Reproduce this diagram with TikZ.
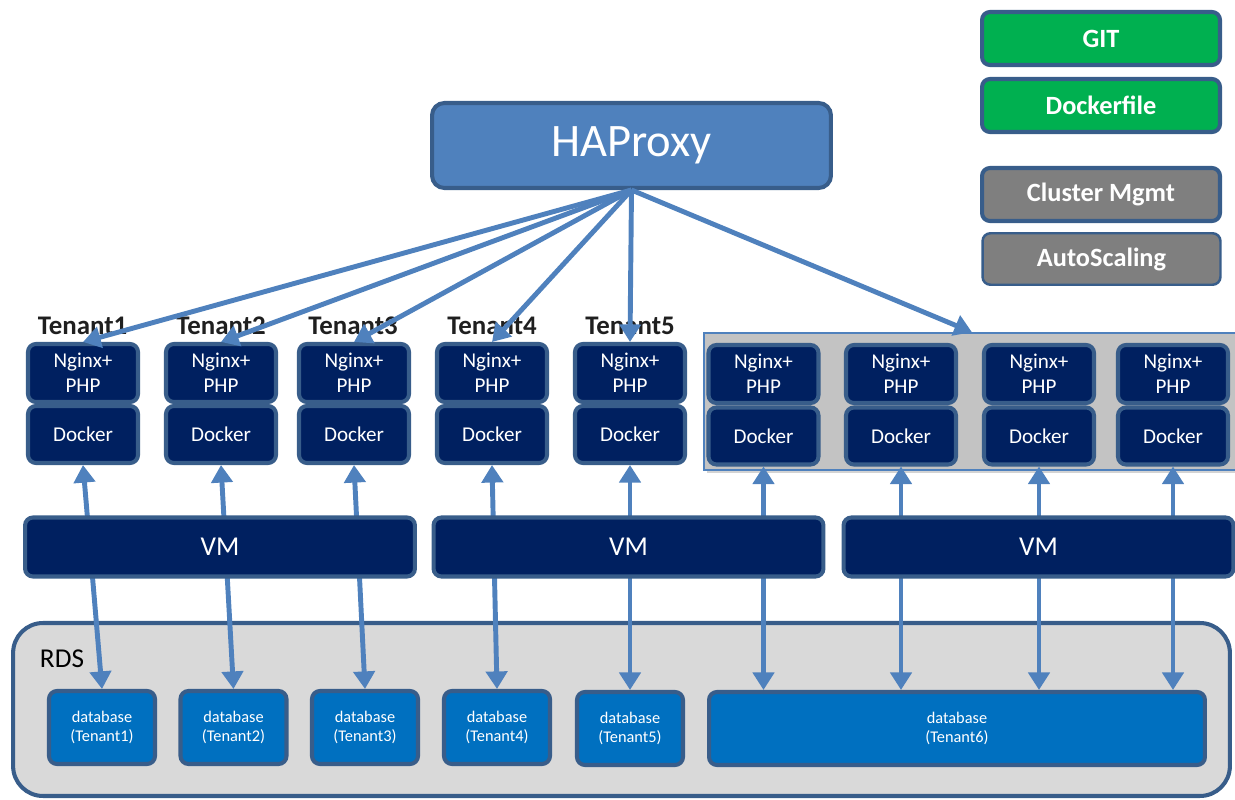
\documentclass[tikz,border=0pt]{standalone}
\usepackage{fontspec}
\setmainfont{Carlito}
\usepackage{tikz}
\usetikzlibrary{arrows.meta,shadows}
\pgfdeclarelayer{background}
\pgfsetlayers{background,main}

\definecolor{edgeblue}{HTML}{385D8A}
\definecolor{habue}{HTML}{4F81BD}
\definecolor{navy}{HTML}{002060}
\definecolor{gitgreen}{HTML}{00B050}
\definecolor{mgmtgray}{HTML}{7F7F7F}
\definecolor{dbblue}{HTML}{0070C0}
\definecolor{rdsgray}{HTML}{D9D9D9}
\definecolor{grpgray}{HTML}{C3C3C3}

\begin{document}
\begin{tikzpicture}[x=0.02cm, y=-0.02cm,
  shapebox/.style={draw=edgeblue, line width=2.3pt, rounded corners=4.5pt,
    text=white, align=center, inner sep=0pt},
  stackbox/.style={shapebox, fill=navy, minimum width=2.2cm,
    font=\fontsize{12}{14.5}\selectfont},
  nginxbox/.style={stackbox, minimum height=1.16cm},
  dockbox/.style={stackbox, minimum height=1.14cm},
  vmbox/.style={shapebox, fill=navy, minimum width=7.8cm, minimum height=1.18cm,
    font=\fontsize{15.5}{18}\selectfont},
  dbbox/.style={shapebox, fill=dbblue, minimum width=2.12cm, minimum height=1.46cm,
    font=\fontsize{9.3}{11}\selectfont},
  toolbox/.style={shapebox, minimum width=4.76cm, minimum height=1.06cm,
    font=\bfseries\fontsize{15}{17}\selectfont},
  tenantlbl/.style={font=\bfseries\fontsize{15.3}{18}\selectfont, text=black!88},
  link/.style={habue, line width=2.8pt, -{Triangle[width=12pt,length=10pt]}},
  twoway/.style={link, {Triangle[width=12pt,length=10pt]}-{Triangle[width=12pt,length=10pt]}}]
  \useasboundingbox (0,0) rectangle (1235,800);

  % load balancer
  \node (ha) [shapebox, fill=habue, rounded corners=7pt, minimum width=7.98cm,
    minimum height=1.7cm, font=\fontsize{26.5}{30}\selectfont] at (631.5,145.5) {HAProxy};

  % tools on the right
  \node (git) [toolbox, fill=gitgreen] at (1101,38.5) {GIT};
  \node (dfile) [toolbox, fill=gitgreen] at (1101,105.5) {Dockerfile};
  \node (mgmt) [toolbox, fill=mgmtgray] at (1101,194.5) {Cluster Mgmt};
  \node (auto) [toolbox, fill=mgmtgray, line width=1.4pt, minimum height=1.03cm] at (1101.5,259) {AutoScaling};

  % tenants
  \node (l1) [tenantlbl] at (82.5,326) {Tenant1};
  \node (l2) [tenantlbl] at (221,326) {Tenant2};
  \node (l3) [tenantlbl] at (353,326) {Tenant3};
  \node (l4) [tenantlbl] at (492,326) {Tenant4};
  \node (l5) [tenantlbl] at (630,326) {Tenant5};

  \node (t1n) [nginxbox] at (83,373) {Nginx+\\PHP};
  \node (t1d) [dockbox] at (83,434.5) {Docker};
  \node (t2n) [nginxbox] at (221,373) {Nginx+\\PHP};
  \node (t2d) [dockbox] at (221,434.5) {Docker};
  \node (t3n) [nginxbox] at (354,373) {Nginx+\\PHP};
  \node (t3d) [dockbox] at (354,434.5) {Docker};
  \node (t4n) [nginxbox] at (492,373) {Nginx+\\PHP};
  \node (t4d) [dockbox] at (492,434.5) {Docker};
  \node (t5n) [nginxbox] at (630,373) {Nginx+\\PHP};
  \node (t5d) [dockbox] at (630,434.5) {Docker};

  % tenant6 group
  \node (g1n) [nginxbox] at (763.5,374) {Nginx+\\PHP};
  \node (g1d) [dockbox] at (763.5,436) {Docker};
  \node (g2n) [nginxbox] at (901,374) {Nginx+\\PHP};
  \node (g2d) [dockbox] at (901,436) {Docker};
  \node (g3n) [nginxbox] at (1039,374) {Nginx+\\PHP};
  \node (g3d) [dockbox] at (1039,436) {Docker};
  \node (g4n) [nginxbox] at (1173,374) {Nginx+\\PHP};
  \node (g4d) [dockbox] at (1173,436) {Docker};

  % databases
  \node (rdslbl) [font=\fontsize{15.5}{18}\selectfont] at (62,659) {RDS};
  \node (db1) [dbbox] at (102,727.5) {database\\(Tenant1)};
  \node (db2) [dbbox] at (233.5,727.5) {database\\(Tenant2)};
  \node (db3) [dbbox] at (365,727.5) {database\\(Tenant3)};
  \node (db4) [dbbox] at (497,727.5) {database\\(Tenant4)};
  \node (db5) [dbbox] at (630,728.5) {database\\(Tenant5)};
  \node (db6) [dbbox, minimum width=9.92cm] at (957,728.5) {database\\(Tenant6)};

  \begin{pgfonlayer}{background}
    \node (grp) [fill=grpgray, draw=habue, line width=0.9pt, minimum width=10.72cm,
      minimum height=2.74cm, drop shadow={opacity=0.35, shadow xshift=1.5pt, shadow yshift=-1.5pt}]
      at (972,401.5) {};
    \node (rds) [fill=rdsgray, draw=edgeblue, line width=2.3pt, rounded corners=17pt,
      minimum width=24.34cm, minimum height=3.46cm] at (621.5,709.5) {};
  \end{pgfonlayer}

  % routing from the proxy
  \draw[link] (ha.south) -- (t1n.north);
  \draw[link] (ha.south) -- (t2n.north);
  \draw[link] (ha.south) -- (t3n.north);
  \draw[link] (ha.south) -- (t4n.north);
  \draw[link] (ha.south) -- (t5n.north);
  \draw[link] (ha.south) -- (grp.north);

  % docker <-> database
  \draw[twoway] (t1d.south) -- (db1.north);
  \draw[twoway] (t2d.south) -- (db2.north);
  \draw[twoway] (t3d.south) -- (db3.north);
  \draw[twoway] (t4d.south) -- (db4.north);
  \draw[twoway] (t5d.south) -- (db5.north);
  \draw[twoway] (g1d.south) -- (g1d.south |- db6.north);
  \draw[twoway] (g2d.south) -- (g2d.south |- db6.north);
  \draw[twoway] (g3d.south) -- (g3d.south |- db6.north);
  \draw[twoway] (g4d.south) -- (g4d.south |- db6.north);

  % hosts
  \node (vm1) [vmbox] at (220,547) {VM};
  \node (vm2) [vmbox] at (628.5,547) {VM};
  \node (vm3) [vmbox] at (1038.5,547) {VM};
\end{tikzpicture}
\end{document}
